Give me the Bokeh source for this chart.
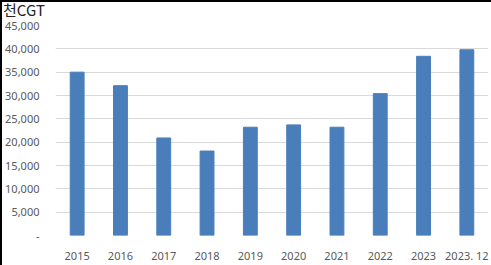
from bokeh.plotting import figure
from bokeh.layouts import column
from bokeh.models import CustomJSTickFormatter, FixedTicker, Range1d, Div
from bokeh.embed import file_html
from bokeh.resources import INLINE

years = ["2015", "2016", "2017", "2018", "2019", "2020", "2021", "2022", "2023", "2023. 12"]
values = [35000, 32100, 20900, 18100, 23200, 23700, 23200, 30400, 38400, 39800]
y_ticks = [0, 5000, 10000, 15000, 20000, 25000, 30000, 35000, 40000, 45000]
unit_label = "천CGT"

head = Div(text=unit_label, width=489, height=16,
           styles={"font-family": "Noto Sans CJK KR", "font-size": "15px",
                   "line-height": "16px", "color": "#222222", "margin": "0",
                   "padding": "0 0 0 1px"})

p = figure(width=489, height=247, x_range=years, y_range=Range1d(0, 45000),
           output_backend="svg", toolbar_location=None,
           min_border_left=44, min_border_right=3, min_border_top=7, min_border_bottom=28)
p.vbar(x=years, top=values, width=0.32, color="#4A7EBB")

p.outline_line_color = None
p.xgrid.grid_line_color = None
p.ygrid.grid_line_color = "#D9D9D9"
p.ygrid.grid_line_width = 1
p.yaxis.ticker = FixedTicker(ticks=y_ticks)
p.yaxis.formatter = CustomJSTickFormatter(code="return tick == 0 ? '-' : tick.toLocaleString('en-US');")
for ax in (p.xaxis, p.yaxis):
    ax.axis_line_color = None
    ax.major_tick_line_color = None
    ax.minor_tick_line_color = None
    ax.major_label_text_color = "#595959"
    ax.major_label_text_font = "Noto Sans"
    ax.major_label_text_font_size = "11px"
p.yaxis.major_label_standoff = 10
p.xaxis.major_label_standoff = 6
p.x_range.range_padding = 0

layout = column(head, p, spacing=0)
layout.styles = {"border-top": "2px solid black", "border-left": "2px solid black",
                 "background-color": "white"}

open("out.html", "w").write(file_html(layout, INLINE))
